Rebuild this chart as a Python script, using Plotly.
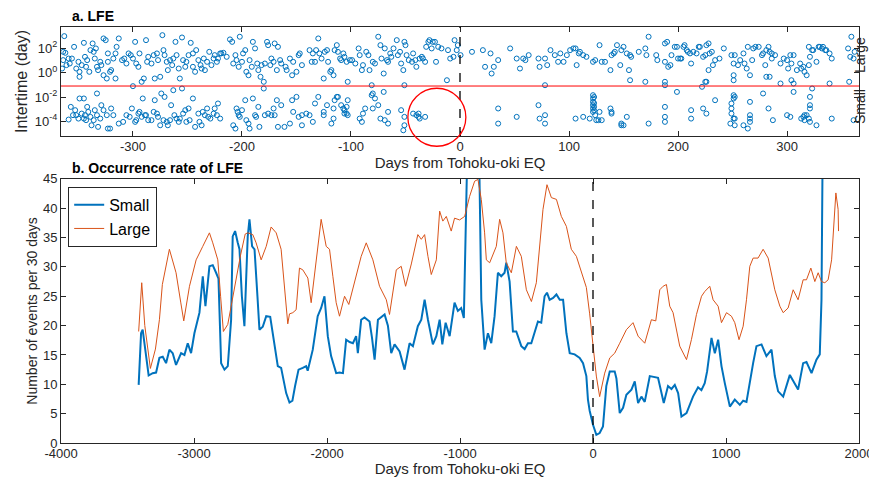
import plotly.graph_objects as go

# ---- panel a: LFE intertimes, (day from EQ, log10 intertime in days) ----
large_pairs = [
    (-363, 3.00), (-364, 1.71), (-362, 1.63), (-364, 1.03), (-365, 0.34), (-361, 0.62), (-359, 1.16), (-356, 1.16),
    (-358, 0.75), (-354, 2.12), (-352, 0.34), (-350, 0.89), (-349, 0.07), (-347, 0.62), (-349, -0.34), (-345, 2.45),
    (-344, 1.30), (-343, 0.48), (-342, 1.03), (-340, 0.07), (-339, 1.85), (-337, 2.40), (-336, 1.71), (-335, 1.16),
    (-334, 1.99), (-333, 0.48), (-332, 0.21), (-330, 0.89), (-329, 0.62), (-327, 2.81), (-325, 2.67), (-323, 1.58),
    (-323, 0.89), (-321, 0.07), (-320, 0.21), (-318, 1.16), (-316, 1.58), (-315, 2.12), (-313, 2.81), (-316, -0.48),
    (-324, -0.48), (-327, -0.21), (-310, 1.03), (-308, 1.16), (-306, 0.75), (-304, 1.58), (-302, 1.44), (-300, 1.16),
    (-298, 2.53), (-297, 0.75), (-295, 0.48), (-294, 1.58), (-292, -0.75), (-290, -0.48), (-288, 2.67), (-287, 0.89),
    (-286, 1.30), (-283, 0.75), (-281, 1.44), (-280, -0.48), (-278, 1.58), (-277, 1.03), (-275, -0.34), (-273, 3.08),
    (-272, 1.85), (-271, 1.44), (-269, 0.89), (-268, 0.21), (-266, 1.03), (-264, 0.62), (-263, 1.16), (-261, 2.53),
    (-260, 1.44), (-258, 0.34), (-257, -0.48), (-255, 2.89), (-254, 1.03), (-252, 0.48), (-251, 0.89), (-249, 1.44),
    (-247, 2.45), (-245, 1.58), (-245, 0.48), (-243, 0.07), (-242, 1.85), (-240, 1.03), (-238, 0.62), (-237, 0.34),
    (-235, 1.16), (-234, 0.21), (-232, 0.89), (-230, 1.71), (-228, 0.62), (-226, 1.16), (-225, 1.44), (-223, 0.89),
    (-222, 1.16), (-220, 1.58), (-219, 1.58), (-217, 1.63), (-214, 1.30), (-211, 2.73), (-209, 2.53), (-208, 0.75),
    (-206, 1.44), (-205, 1.03), (-203, 0.48), (-202, 2.95), (-200, 0.89), (-199, 1.58), (-197, 1.85), (-196, 0.07),
    (-194, -0.21), (-193, 1.03), (-191, 0.48), (-190, 2.53), (-188, 1.99), (-186, 0.75), (-185, 0.21), (-183, -0.34),
    (-182, 0.62), (-180, -0.75), (-179, 0.75), (-177, 2.53), (-176, 2.26), (-174, 0.62), (-173, 1.16), (-171, 0.89),
    (-170, 2.40), (-168, 0.21), (-167, 2.12), (-165, 1.03), (-164, 0.75), (-160, 0.48), (-159, 0.21), (-156, 1.16),
    (-154, -0.21), (-153, 0.89), (-150, 0.07), (-148, 1.44),
    (-147, 1.58), (-145, 0.62), (-138, 1.85), (-136, 0.89), (-135, 1.58), (-133, 0.89), (-132, 1.85), (-130, 2.81),
    (-129, 1.58), (-127, 1.16), (-125, -0.48), (-124, 1.71), (-122, 1.85), (-121, 0.89), (-119, 0.07), (-118, 0.21),
    (-116, -0.21), (-115, 1.85), (-113, 2.26), (-112, 1.71), (-110, 1.16), (-109, 1.03), (-107, 1.58), (-106, 1.30),
    (-104, 0.89), (-103, -0.75), (-101, 1.03), (-99, 1.03), (-96, 0.75), (-93, 1.99), (-92, 1.44), (-90, 0.21),
    (-89, 0.62), (-86, 1.71), (-84, 1.44), (-83, 0.21), (-81, -1.03), (-80, 0.89), (-78, 0.75), (-75, 2.95),
    (-73, 2.26), (-72, 1.16), (-70, -0.07), (-69, 1.99), (-67, 1.03), (-66, 0.89), (-64, 1.58), (-63, 1.30),
    (-61, 1.99), (-58, 2.67), (-57, 1.44), (-55, 1.71), (-54, 0.75), (-52, 0.21), (-51, 2.53), (-50, 2.26),
    (-49, 1.44), (-51, -1.03), (-47, 1.03), (-44, 0.89), (-43, 1.58), (-41, 1.03), (-40, 0.48), (-37, 1.16),
    (-35, 1.30), (-34, 1.16), (-32, 0.89), (-31, 2.12), (-29, 2.53), (-28, 2.67), (-26, 1.99), (-25, 2.53),
    (-23, 2.53), (-22, 0.89), (-20, 2.12), (-17, 1.99), (-12, -0.62), (-11, 1.85), (-9, 1.16), (-6, 1.30),
    (-5, 2.67), (-3, 1.85), (-2, 2.26), (0.5, 1.44), (11, 1.71), (21, 1.85), (23, 0.48), (28, 1.58),
    (29, -0.07), (31, 0.48), (35, 1.03), (46, 1.99), (52, 1.16), (55, 0.34), (58, 1.16), (60, 1.03),
    (63, 1.44), (72, 1.16), (73, 0.48), (78, 1.16), (80, 0.62), (78, -1.03), (83, 1.85), (87, 1.44),
    (90, 0.89), (92, 1.58), (95, 0.89), (98, 1.44), (101, 1.85), (104, 1.99), (106, 1.99), (107, 0.62), (109, 1.58),
    (110, 1.71), (113, 1.44), (116, 1.30), (122, 0.89), (124, 1.03), (128, 2.26), (130, 0.89), (133, 0.89),
    (138, 0.21), (139, 1.44), (141, 1.58), (142, 1.71), (144, 2.26), (147, 0.62), (148, 1.85), (150, 2.12),
    (153, 1.58), (156, 1.44), (155, 0.21), (156, -0.62), (157, 1.30), (164, 1.71), (170, 1.99), (171, 1.44),
    (170, -0.75), (173, 2.95), (180, 1.44), (181, 1.03), (188, 0.89), (188, -0.75), (188, -1.03), (188, 2.40),
    (190, 2.53), (191, 0.48), (193, 0.62), (194, 1.44), (197, 2.12), (199, 2.12), (200, 1.16), (202, 1.16),
    (203, 1.16), (205, 2.12), (206, 2.26), (208, 1.85), (209, 1.71), (211, 1.58), (212, 0.75), (214, 1.71),
    (217, 1.58), (219, 2.12), (220, 2.12), (222, -1.16), (223, 1.30), (225, 1.44), (226, 2.26), (228, 2.40),
    (225, -0.75), (226, -0.75), (228, 0.21), (229, 1.58), (231, 1.71), (232, 0.62), (234, 1.03), (238, 1.16),
    (242, 1.99), (249, 1.44), (251, 0.75), (251, -0.21), (251, -0.62), (252, 1.44), (255, 0.62), (257, 1.03),
    (260, 1.58), (261, 0.75), (263, 0.34), (264, 2.12), (266, -0.21), (268, 1.03), (269, 1.99), (271, 2.12),
    (274, 2.12), (277, 1.44), (278, 1.58), (280, 0.62), (281, 1.85), (283, 2.12), (284, 1.71), (286, 1.58),
    (281, -0.34), (284, -0.34), (286, 1.16), (289, 1.44), (294, 0.75), (294, -0.89), (297, 1.16), (300, 1.03),
    (301, 0.34), (303, 1.44), (304, 0.75), (306, 1.44), (304, -0.62), (306, -0.89), (309, 0.21), (312, 0.75),
    (313, 0.34), (315, 0.48), (316, 0.07), (318, -0.21), (320, 0.62), (321, 1.30), (320, 2.12), (323, 1.85),
    (324, 1.85), (327, 0.89), (329, 2.12), (330, 2.12), (332, 1.99), (333, 2.12), (335, 1.85), (336, 1.85),
    (339, 1.58), (341, 1.16), (339, -0.89), (356, 1.99), (358, 1.30), (359, 2.95), (361, 1.16), (362, 1.71),
    (357, -0.75),
]

small_pairs = [
    (-359, -3.85), (-357, -2.81), (-355, -3.49), (-353, -3.08), (-352, -3.49), (-350, -3.77), (-349, -2.12), (-347, -3.36),
    (-345, -2.12), (-345, -3.77), (-344, -3.49), (-343, -3.90), (-342, -2.81), (-341, -3.22), (-339, -3.63), (-338, -4.32),
    (-336, -3.90), (-335, -3.08), (-333, -1.71), (-333, -3.49), (-332, -4.45), (-330, -3.77), (-329, -2.67), (-327, -3.08),
    (-324, -3.49), (-323, -4.59), (-321, -4.59), (-320, -2.94), (-318, -3.49), (-313, -4.18), (-309, -4.04), (-306, -3.49),
    (-303, -3.63), (-301, -2.94), (-300, -1.11), (-298, -4.04), (-297, -3.90), (-295, -3.36), (-294, -3.22), (-292, -3.63),
    (-291, -2.12), (-289, -3.49), (-288, -3.49), (-286, -3.90), (-283, -3.90), (-281, -3.22), (-280, -2.26), (-278, -3.36),
    (-277, -3.63), (-275, -4.32), (-274, -1.71), (-272, -3.90), (-271, -1.99), (-269, -4.04), (-268, -4.32), (-266, -3.90),
    (-265, -2.67), (-263, -1.44), (-262, -3.49), (-260, -3.77), (-258, -4.04), (-257, -3.77), (-255, -1.30), (-254, -3.36),
    (-252, -3.08), (-251, -4.04), (-249, -2.94), (-248, -3.90), (-245, -2.12), (-243, -4.45), (-240, -3.36), (-239, -4.04),
    (-237, -4.32), (-236, -3.22), (-234, -3.49), (-232, -2.94), (-231, -3.63), (-229, -3.77), (-226, -3.36), (-225, -2.94),
    (-223, -3.49), (-222, -2.53), (-220, -3.77), (-208, -4.32), (-206, -4.59), (-205, -2.94), (-204, -3.22), (-203, -3.49),
    (-202, -3.63), (-200, -3.08), (-197, -2.26), (-196, -3.90), (-194, -4.18), (-193, -4.59), (-190, -2.12), (-188, -3.49),
    (-187, -3.63), (-185, -2.81), (-184, -4.45), (-180, -1.30), (-179, -3.49), (-176, -3.36), (-173, -3.49), (-171, -2.94),
    (-170, -3.49), (-168, -2.26), (-167, -4.45), (-164, -2.67), (-161, -4.45), (-156, -4.18), (-154, -2.26), (-153, -3.22),
    (-150, -1.99), (-148, -3.63),
    (-145, -3.49), (-145, -4.32), (-141, -3.36), (-138, -3.49), (-135, -4.04), (-133, -2.53), (-130, -1.99), (-125, -3.22),
    (-125, -3.49), (-122, -2.67), (-118, -4.18), (-116, -3.77), (-116, -2.94), (-115, -2.26), (-113, -1.99), (-112, -1.99),
    (-109, -2.67), (-107, -2.94), (-106, -3.08), (-104, -2.81), (-103, -2.26), (-106, -3.36), (-104, -3.36), (-103, -3.49),
    (-92, -3.77), (-90, -4.04), (-89, -3.36), (-87, -2.94), (-81, -1.85), (-80, -1.71), (-80, -2.94), (-78, -2.12),
    (-75, -2.67), (-73, -3.77), (-70, -1.58), (-69, -3.90), (-66, -3.22), (-66, -4.18), (-54, -3.08), (-52, -4.73),
    (-51, -4.32), (-51, -3.63), (-43, -3.36), (-40, -3.49), (-38, -3.36), (-38, -3.63), (-37, -3.77), (-32, -3.63),
    (35, -2.94), (35, -4.18), (52, -3.63), (72, -2.67), (73, -3.77), (78, -3.49), (78, -4.18), (106, -3.77),
    (113, -3.63), (119, -3.77), (122, -1.85), (122, -2.12), (122, -2.40), (122, -2.67), (122, -2.94), (122, -3.22),
    (124, -3.49), (123, -2.00), (123, -2.50), (123, -2.80), (123, -3.10), (125, -3.90), (127, -3.90), (128, -3.22),
    (130, -3.90), (138, -2.94), (139, -3.22), (139, -3.36), (148, -4.18), (148, -4.32), (150, -4.32), (153, -3.63),
    (173, -4.18), (188, -2.81), (188, -3.63), (188, -4.04), (199, -1.58), (212, -3.08), (212, -3.77), (223, -2.94),
    (226, -3.36), (234, -2.26), (249, -2.53), (249, -2.94), (249, -3.36), (251, -1.85), (251, -2.12), (252, -1.99),
    (251, -3.77), (252, -3.77), (252, -4.32), (248, -4.18), (260, -4.32), (264, -4.59), (266, -3.49), (266, -3.77),
    (266, -4.04), (266, -2.40), (278, -1.71), (283, -2.94), (287, -3.90), (300, -3.49), (303, -3.63), (306, -1.58),
    (313, -3.77), (315, -3.63), (316, -3.49), (316, -3.90), (318, -3.49), (320, -3.77), (321, -1.99), (321, -2.67),
    (321, -2.94), (321, -4.04), (323, -1.30), (327, -4.32), (341, -3.77), (361, -3.90),
]

# ---- panel b: occurrence rate per 30 days ----
large_day = [-3416, -3393, -3370, -3328, -3290, -3260, -3238, -3210, -3185, -3160, -3135, -3100, -3077, -3034,
             -2984, -2934, -2884, -2859, -2821, -2800, -2779, -2746, -2700, -2650, -2615, -2596, -2558, -2533,
             -2495, -2457, -2420, -2382, -2345, -2320, -2295, -2282, -2257, -2232, -2207, -2182, -2144, -2119,
             -2081, -2044, -2006, -1981, -1956, -1931, -1906, -1868, -1836, -1793, -1743, -1705, -1655, -1605,
             -1554, -1530, -1479, -1442, -1409, -1366, -1317, -1291, -1266, -1241, -1216, -1178, -1153, -1129,
             -1103, -1066, -1041, -1003, -965, -928, -890, -865, -840, -815, -802, -777, -727, -702, -677, -652,
             -614, -576, -539, -501, -463, -426, -376, -346, -313, -275, -238, -200, -163, -125, -87, -50, -25,
             0, 25, 50, 88, 126, 163, 201, 251, 301, 339, 389, 439, 472, 502, 527, 552, 577, 602, 652, 703, 740,
             778, 816, 840, 878, 903, 941, 966, 1004, 1041, 1066, 1098, 1129, 1154, 1179, 1204, 1241, 1279, 1317,
             1367, 1405, 1430, 1467, 1505, 1542, 1580, 1605, 1638, 1668, 1693, 1718, 1743, 1768, 1794, 1826,
             1843, 1846]
large_rate = [19.0, 27.3, 20.0, 12.7, 16.0, 21.0, 27.0, 30.0, 33.0, 31.0, 29.0, 24.0, 20.8, 26.7,
              31.2, 33.5, 35.8, 34.1, 31.2, 25.0, 19.0, 20.2, 26.0, 32.0, 35.6, 35.8, 35.5, 34.1,
              31.2, 33.5, 36.8, 35.8, 33.0, 26.1, 20.3, 22.0, 22.2, 22.7, 29.8, 29.5, 28.1, 23.9,
              31.2, 38.1, 33.5, 33.0, 28.4, 23.9, 21.6, 25.0, 23.6, 27.3, 31.8, 34.1, 31.2, 26.7,
              24.4, 21.9, 29.5, 30.1, 26.7, 30.5, 35.5, 34.7, 35.5, 31.8, 28.7, 31.2, 39.5, 37.8,
              38.6, 36.1, 38.3, 38.0, 38.6, 42.0, 44.6, 44.9, 41.5, 35.8, 31.2, 30.7, 33.5, 38.1, 35.8, 30.7,
              29.0, 33.5, 31.8, 26.1, 24.1, 27.3, 39.8, 44.0, 41.8, 41.5, 38.6, 36.9, 33.0, 31.8, 29.0, 26.5, 22.0,
              17.0, 11.4, 7.9, 11.9, 14.5, 15.3, 17.0, 19.3, 20.5, 18.2, 17.0, 21.0, 20.8, 26.1, 26.7, 27.0, 23.3, 22.2, 16.5, 14.2, 17.6,
              21.9, 25.0, 25.8, 26.7, 24.4, 23.3, 20.5, 22.2, 21.6, 20.5, 17.6, 19.9, 24.4, 30.1, 31.5, 31.5, 33.0, 31.5,
              26.1, 23.3, 22.2, 23.0, 26.1, 24.4, 27.8, 27.8, 29.8, 27.5, 29.0, 27.5, 27.3, 27.8, 31.2, 42.6,
              39.8, 36.1]

small_day = [-3416, -3398, -3386, -3360, -3341, -3311, -3285, -3260, -3235, -3210, -3185, -3160, -3135, -3097,
             -3072, -3047, -3022, -2997, -2959, -2934, -2914, -2884, -2859, -2834, -2816, -2796, -2771, -2746,
             -2721, -2709, -2691, -2671, -2658, -2640, -2621, -2596, -2583, -2563, -2545, -2523, -2508, -2483,
             -2457, -2427, -2408, -2370, -2345, -2307, -2282, -2260, -2240, -2214, -2182, -2157, -2145, -2107,
             -2070, -2044, -2019, -1994, -1969, -1931, -1906, -1880, -1856, -1830, -1805, -1781, -1768, -1743,
             -1718, -1680, -1662, -1642, -1617, -1567, -1542, -1517, -1492, -1454, -1417, -1379, -1354, -1317,
             -1291, -1266, -1241, -1204, -1178, -1153, -1133, -1108, -1078, -1041, -1016, -991, -971, -955, -940,
             -880, -860, -850, -840, -815, -790, -765, -740, -715, -690, -665, -652, -627, -610, -602, -577, -539,
             -514, -489, -464, -439, -414, -389, -364, -346, -326, -300, -275, -250, -225, -200, -175, -138, -100,
             -75, -50, -38, -25, 0, 25, 50, 75, 100, 126, 163, 176, 201, 226, 251, 289, 314, 339, 364, 389, 427,
             464, 489, 532, 564, 590, 615, 640, 665, 703, 752, 790, 815, 840, 858, 891, 916, 941, 966, 991, 1029,
             1066, 1104, 1129, 1154, 1204, 1229, 1267, 1304, 1342, 1367, 1392, 1430, 1480, 1517, 1542, 1580, 1605,
             1643, 1680, 1705, 1718, 1730]
small_rate = [9.9, 18.7, 19.3, 14.2, 11.5, 11.9, 12.0, 14.5, 14.7, 13.6, 15.9, 15.3, 13.3, 15.3,
              15.0, 17.0, 15.3, 18.7, 22.2, 28.4, 23.3, 30.1, 30.3, 29.0, 28.0, 13.6, 12.5, 13.1,
              21.0, 35.2, 36.1, 34.1, 33.0, 25.0, 19.9, 35.2, 38.1, 33.5, 33.0, 25.0, 19.3, 19.8,
              21.6, 21.5, 18.7, 13.1, 12.8, 8.5, 6.9, 7.2, 9.7, 12.5, 12.8, 13.1, 12.3, 15.9,
              21.6, 23.0, 25.0, 18.2, 14.8, 11.9, 12.0, 11.9, 17.6, 17.2, 17.0, 18.2, 15.3, 21.0,
              21.4, 20.7, 18.0, 14.2, 21.0, 21.9, 20.0, 15.3, 16.8, 15.6, 12.5, 17.0, 16.5, 19.9,
              21.0, 24.4, 21.0, 16.8, 18.2, 21.0, 16.8, 20.5, 18.2, 23.9, 22.5, 23.0, 21.3, 40.0, 55.0,
              60.0, 55.0, 40.0, 24.4, 15.9, 18.7, 17.0, 21.6, 29.0, 28.4, 29.0, 30.7, 27.5, 22.0, 19.0, 19.0, 16.5,
              16.0, 17.0, 17.0, 18.7, 20.7, 20.5, 25.0, 25.6, 24.4, 24.7, 25.3, 24.4, 24.4, 18.7, 15.3, 15.1, 14.5,
              13.6, 11.4, 7.4, 5.5, 3.1, 1.4, 1.7, 2.8, 9.7, 12.2, 12.2, 11.0, 5.1, 6.0, 8.2, 9.1, 10.5, 6.8, 7.9, 7.0, 11.4,
              11.2, 11.1, 6.8, 9.7, 9.2, 9.9, 8.5, 4.5, 5.1, 7.9, 9.5, 9.0, 10.2, 12.2, 17.9, 15.3, 17.6, 13.1, 10.2, 6.2,
              7.4, 6.5, 7.2, 7.0, 13.6, 16.5, 16.8, 14.8, 15.9, 11.4, 8.8, 7.9, 11.6, 10.2, 9.1, 13.6, 13.8,
              11.9, 14.2, 15.1, 24.4, 60.0]

assert len(large_day) == len(large_rate), (len(large_day), len(large_rate))
assert len(small_day) == len(small_rate), (len(small_day), len(small_rate))

top_xticks = [-300, -200, -100, 0, 100, 200, 300]
top_yticks = [1e-4, 1e-2, 1, 1e2]
top_ytext = ["10<sup>-4</sup>", "10<sup>-2</sup>", "10<sup>0</sup>", "10<sup>2</sup>"]
bot_xticks = [-4000, -3000, -2000, -1000, 0, 1000, 2000]

BLUE = "#0072BD"
ORANGE = "#D95319"
AX = "#262626"
FONT = "Liberation Sans, Arial, sans-serif"

lfe = large_pairs + small_pairs
lfe_day = [p[0] for p in lfe]
lfe_dt = [10 ** p[1] for p in lfe]

fig = go.Figure()
fig.add_trace(go.Scatter(x=lfe_day, y=lfe_dt, mode="markers", showlegend=False,
                         marker=dict(symbol="circle-open", size=5, color=BLUE, line=dict(width=1, color=BLUE)),
                         xaxis="x", yaxis="y"))
fig.add_trace(go.Scatter(x=small_day, y=small_rate, mode="lines", name="Small",
                         line=dict(color=BLUE, width=2), xaxis="x2", yaxis="y2"))
fig.add_trace(go.Scatter(x=large_day, y=large_rate, mode="lines", name="Large",
                         line=dict(color=ORANGE, width=1), xaxis="x2", yaxis="y2"))

ax = dict(showline=True, linecolor=AX, linewidth=1, mirror="ticks", ticks="inside", ticklen=5,
          tickcolor=AX, showgrid=False, zeroline=False, automargin=False,
          tickfont=dict(size=13, color=AX))

# the page body adds an 8px offset, so the figure is 8px smaller and margins shifted
fig.update_layout(
    width=869, height=469, plot_bgcolor="white", paper_bgcolor="white",
    font=dict(family=FONT, color=AX),
    margin=dict(l=53, r=18, t=19, b=34, autoexpand=False),
    xaxis=dict(ax, domain=[0, 1], range=[-366, 366], anchor="y", tickvals=top_xticks,
               ticktext=[str(v) for v in top_xticks], ticklabelstandoff=-2,
               title=dict(text="Days from Tohoku-oki EQ", font=dict(size=15, color=AX), standoff=0)),
    yaxis=dict(ax, domain=[0.738, 1], type="log", range=[-5.2, 3.75], anchor="x",
               tickvals=top_yticks, ticktext=top_ytext,
               title=dict(text="Intertime (day)", font=dict(size=16, color=AX), standoff=3)),
    xaxis2=dict(ax, domain=[0, 1], range=[-4000, 2000], anchor="y2", tickvals=bot_xticks,
                ticktext=[str(v) for v in bot_xticks], ticklabelstandoff=-2,
                title=dict(text="Days from Tohoku-oki EQ", font=dict(size=15, color=AX), standoff=0)),
    yaxis2=dict(ax, domain=[0, 0.635], range=[0, 45], dtick=5, anchor="x2",
                title=dict(text="Number of events per 30 days", font=dict(size=14, color=AX), standoff=2)),
    legend=dict(x=0.009, y=0.616, xanchor="left", yanchor="top", bordercolor=AX, borderwidth=1,
                bgcolor="white", font=dict(size=16, color="black"), itemwidth=30, tracegroupgap=0),
)

# threshold between small / large intertimes and EQ origin
fig.add_shape(type="line", xref="x domain", x0=0, x1=1, yref="y", y0=0.08, y1=0.08,
              line=dict(color="#FF0000", width=1))
fig.add_shape(type="line", xref="x", x0=0, x1=0, yref="y domain", y0=0, y1=1,
              line=dict(color="black", width=1.3, dash="dash"))
fig.add_shape(type="line", xref="x2", x0=0, x1=0, yref="y2 domain", y0=0, y1=1,
              line=dict(color="black", width=1.3, dash="dash"))
fig.add_shape(type="circle", xref="paper", yref="paper", xsizemode="pixel", ysizemode="pixel",
              xanchor=0.471, yanchor=0.783, x0=-29, x1=29, y0=-29, y1=29,
              line=dict(color="#FF0000", width=1.3))

fig.add_annotation(text="<b>a. LFE</b>", xref="paper", yref="paper", x=0.011, y=1.027,
                   xanchor="left", yanchor="middle", showarrow=False, font=dict(size=14, color="black"))
fig.add_annotation(text="<b>b. Occurrence rate of LFE</b>", xref="paper", yref="paper", x=0.011, y=0.661,
                   xanchor="left", yanchor="middle", showarrow=False, font=dict(size=14, color="black"))
fig.add_annotation(text="Large", xref="paper", yref="paper", x=1.014, y=0.933, textangle=-90,
                   xanchor="right", yanchor="middle", showarrow=False, font=dict(size=14, color=AX))
fig.add_annotation(text="Small", xref="paper", yref="paper", x=1.014, y=0.808, textangle=-90,
                   xanchor="right", yanchor="middle", showarrow=False, font=dict(size=14, color=AX))

fig.write_html("out.html")
